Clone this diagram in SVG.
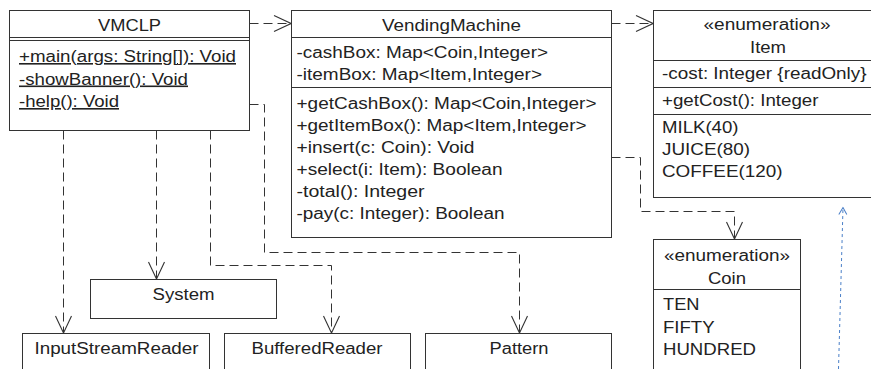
<svg xmlns="http://www.w3.org/2000/svg" width="871" height="369" viewBox="0 0 871 369">
<style>
.box{fill:#fff;stroke:#333;stroke-width:1}
.sep{stroke:#333;stroke-width:1;fill:none}
text{font-family:"Liberation Sans",Arial,sans-serif;font-size:16px;fill:#222}
.c{text-anchor:middle}
.u{text-decoration:underline}
.dep{fill:none;stroke:#333;stroke-width:1;stroke-dasharray:9 5}
.blue{fill:none;stroke:#4a7fc8;stroke-width:1;stroke-dasharray:3 3}
</style>
<defs>
<marker id="open" viewBox="-18 -9 19 18" refX="0" refY="0" markerWidth="19" markerHeight="18" markerUnits="userSpaceOnUse" orient="auto">
<path d="M-17,-8 L0,0 L-17,8" fill="none" stroke="#333" stroke-width="1.1" stroke-dasharray="none"/>
</marker>
<marker id="openBlue" viewBox="-8 -5 9 10" refX="0" refY="0" markerWidth="9" markerHeight="10" markerUnits="userSpaceOnUse" orient="auto">
<path d="M-7,-4 L0,0 L-7,4" fill="none" stroke="#4a7fc8" stroke-width="1" stroke-dasharray="none"/>
</marker>
</defs>
<rect width="871" height="369" fill="#fff"/>

<g id="connectors">
<path class="dep" d="M249.5,23.5 H291" marker-end="url(#open)"/>
<path class="dep" d="M611.5,23.5 H653" marker-end="url(#open)"/>
<path class="dep" d="M611.5,157.5 H640.5 V211.5 H734.5 V239" marker-end="url(#open)"/>
<path class="dep" d="M63.5,130.5 V333" marker-end="url(#open)"/>
<path class="dep" d="M156.5,130.5 V279" marker-end="url(#open)"/>
<path class="dep" d="M210.5,130.5 V265.5 H331.5 V333" marker-end="url(#open)"/>
<path class="dep" d="M249.5,104.5 H264.5 V252.5 H519.5 V333" marker-end="url(#open)"/>
<path class="blue" d="M838.5,369 L843,207.5" marker-end="url(#openBlue)"/>
</g>

<g id="VMCLP">
<rect class="box" x="9.5" y="10.5" width="240" height="120"/>
<path class="sep" d="M9.5,37.5 H249.5 M9.5,40.5 H249.5"/>
<text class="c" x="129.5" y="31" textLength="63" lengthAdjust="spacingAndGlyphs">VMCLP</text>
<text class="u" x="19" y="62" textLength="217" lengthAdjust="spacingAndGlyphs">+main(args: String[]): Void</text>
<text class="u" x="19" y="84.5" textLength="169" lengthAdjust="spacingAndGlyphs">-showBanner(): Void</text>
<text class="u" x="19" y="107" textLength="100" lengthAdjust="spacingAndGlyphs">-help(): Void</text>
</g>

<g id="VendingMachine">
<rect class="box" x="291.5" y="10.5" width="320" height="227"/>
<path class="sep" d="M291.5,37.5 H611.5 M291.5,87.5 H611.5"/>
<text class="c" x="451.5" y="31" textLength="139" lengthAdjust="spacingAndGlyphs">VendingMachine</text>
<text x="296.5" y="58" textLength="251.5" lengthAdjust="spacingAndGlyphs">-cashBox: Map&lt;Coin,Integer&gt;</text>
<text x="296.5" y="80" textLength="245.5" lengthAdjust="spacingAndGlyphs">-itemBox: Map&lt;Item,Integer&gt;</text>
<text x="296.5" y="109" textLength="300" lengthAdjust="spacingAndGlyphs">+getCashBox(): Map&lt;Coin,Integer&gt;</text>
<text x="296.5" y="131" textLength="290" lengthAdjust="spacingAndGlyphs">+getItemBox(): Map&lt;Item,Integer&gt;</text>
<text x="296.5" y="153" textLength="178" lengthAdjust="spacingAndGlyphs">+insert(c: Coin): Void</text>
<text x="296.5" y="175" textLength="206" lengthAdjust="spacingAndGlyphs">+select(i: Item): Boolean</text>
<text x="296.5" y="197" textLength="128" lengthAdjust="spacingAndGlyphs">-total(): Integer</text>
<text x="296.5" y="219" textLength="208" lengthAdjust="spacingAndGlyphs">-pay(c: Integer): Boolean</text>
</g>

<g id="Item">
<rect class="box" x="653.5" y="10.5" width="228" height="187"/>
<path class="sep" d="M653.5,60.5 H881.5 M653.5,87.5 H881.5 M653.5,114.5 H881.5"/>
<text class="c" x="767" y="30" textLength="127" lengthAdjust="spacingAndGlyphs">«enumeration»</text>
<text class="c" x="768" y="53" textLength="36" lengthAdjust="spacingAndGlyphs">Item</text>
<text x="662" y="79" textLength="204.5" lengthAdjust="spacingAndGlyphs">-cost: Integer {readOnly}</text>
<text x="662" y="106" textLength="156.5" lengthAdjust="spacingAndGlyphs">+getCost(): Integer</text>
<text x="662" y="133" textLength="76.5" lengthAdjust="spacingAndGlyphs">MILK(40)</text>
<text x="662" y="155" textLength="88" lengthAdjust="spacingAndGlyphs">JUICE(80)</text>
<text x="662" y="177" textLength="120.5" lengthAdjust="spacingAndGlyphs">COFFEE(120)</text>
</g>

<g id="Coin">
<rect class="box" x="653.5" y="239.5" width="147" height="140"/>
<path class="sep" d="M653.5,289.5 H800.5"/>
<text class="c" x="727" y="261" textLength="126" lengthAdjust="spacingAndGlyphs">«enumeration»</text>
<text class="c" x="727" y="283.5" textLength="38" lengthAdjust="spacingAndGlyphs">Coin</text>
<text x="663" y="310" textLength="36.5" lengthAdjust="spacingAndGlyphs">TEN</text>
<text x="663" y="332.5" textLength="51.5" lengthAdjust="spacingAndGlyphs">FIFTY</text>
<text x="663" y="355" textLength="93" lengthAdjust="spacingAndGlyphs">HUNDRED</text>
</g>

<g id="System">
<rect class="box" x="90.5" y="279.5" width="186" height="39"/>
<text class="c" x="183.5" y="300" textLength="62" lengthAdjust="spacingAndGlyphs">System</text>
</g>

<g id="InputStreamReader">
<rect class="box" x="22.5" y="333.5" width="187" height="50"/>
<text class="c" x="116.5" y="354" textLength="164" lengthAdjust="spacingAndGlyphs">InputStreamReader</text>
</g>

<g id="BufferedReader">
<rect class="box" x="224.5" y="333.5" width="186" height="50"/>
<text class="c" x="317" y="354" textLength="131" lengthAdjust="spacingAndGlyphs">BufferedReader</text>
</g>

<g id="Pattern">
<rect class="box" x="425.5" y="333.5" width="186" height="50"/>
<text class="c" x="519" y="354" textLength="59" lengthAdjust="spacingAndGlyphs">Pattern</text>
</g>
</svg>
